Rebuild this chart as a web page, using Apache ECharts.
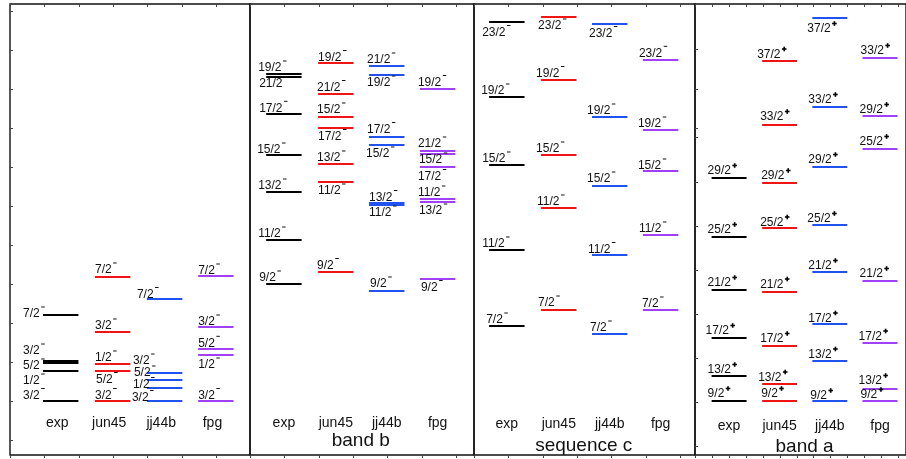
<!DOCTYPE html>
<html><head><meta charset="utf-8">
<script src="https://cdn.jsdelivr.net/npm/echarts@6/dist/echarts.min.js"></script>
<style>html,body{margin:0;padding:0;background:#fff}#c{width:906px;height:459px}</style>
</head><body><div id="c"></div><script>
// ---------------- DATA (excitation energies, keV, relative to lowest level) ----------------
const columns = ['exp', 'jun45', 'jj44b', 'fpg'];
const panelTitles = ['', 'band b', 'sequence c', 'band a'];
const panelParity = ['-', '-', '-', '+'];

// Panel 1: low-lying negative-parity states
const lowExpE   = [0, 300, 380, 400, 860];
const lowExpJ   = ['3/2', '1/2', '5/2', '3/2', '7/2'];
const lowJun45E = [0, 300, 370, 690, 1240];
const lowJun45J = ['3/2', '5/2', '1/2', '3/2', '7/2'];
const lowJj44bE = [0, 130, 210, 280, 1020];
const lowJj44bJ = ['3/2', '1/2', '5/2', '3/2', '7/2'];
const lowFpgE   = [0, 460, 520, 740, 1250];
const lowFpgJ   = ['3/2', '1/2', '5/2', '3/2', '7/2'];

// Panel 2: band b
const bandBExpE   = [1170, 1610, 2090, 2460, 2870, 3240, 3270];
const bandBExpJ   = ['9/2', '11/2', '13/2', '15/2', '17/2', '21/2', '19/2'];
const bandBJun45E = [1290, 2190, 2370, 2730, 2840, 3070, 3380];
const bandBJun45J = ['9/2', '11/2', '13/2', '17/2', '15/2', '21/2', '19/2'];
const bandBJj44bE = [1100, 1960, 1980, 2560, 2640, 3260, 3350];
const bandBJj44bJ = ['9/2', '11/2', '13/2', '15/2', '17/2', '19/2', '21/2'];
const bandBFpgE   = [1220, 1990, 2020, 2340, 2470, 2500, 3120];
const bandBFpgJ   = ['9/2', '13/2', '11/2', '17/2', '15/2', '21/2', '19/2'];

// Panel 3: sequence c
const seqCJ      = ['7/2', '11/2', '15/2', '19/2', '23/2'];
const seqCExpE   = [750, 1510, 2360, 3040, 3790];
const seqCJun45E = [910, 1930, 2460, 3210, 3840];
const seqCJj44bE = [670, 1460, 2150, 2840, 3770];
const seqCFpgE   = [910, 1660, 2300, 2710, 3410];

// Panel 4: band a (positive parity)
const bandAExpE   = [0, 250, 630, 1110, 1640, 2230];
const bandAExpJ   = ['9/2', '13/2', '17/2', '21/2', '25/2', '29/2'];
const bandAJun45E = [0, 170, 550, 1090, 1730, 2180, 2760, 3400];
const bandAJun45J = ['9/2', '13/2', '17/2', '21/2', '25/2', '29/2', '33/2', '37/2'];
const bandAJj44bE = [0, 400, 770, 1290, 1760, 2340, 2940, 3830];
const bandAJj44bJ = ['9/2', '13/2', '17/2', '21/2', '25/2', '29/2', '33/2', '37/2'];
const bandAFpgE   = [0, 120, 580, 1200, 2520, 2850, 3430];
const bandAFpgJ   = ['9/2', '13/2', '17/2', '21/2', '25/2', '29/2', '33/2'];

const panelLevels = [
  [[lowExpE, lowExpJ], [lowJun45E, lowJun45J], [lowJj44bE, lowJj44bJ], [lowFpgE, lowFpgJ]],
  [[bandBExpE, bandBExpJ], [bandBJun45E, bandBJun45J], [bandBJj44bE, bandBJj44bJ], [bandBFpgE, bandBFpgJ]],
  [[seqCExpE, seqCJ], [seqCJun45E, seqCJ], [seqCJj44bE, seqCJ], [seqCFpgE, seqCJ]],
  [[bandAExpE, bandAExpJ], [bandAJun45E, bandAJun45J], [bandAJj44bE, bandAJj44bJ], [bandAFpgE, bandAFpgJ]]
];

// ---------------- LAYOUT / STYLE ----------------
const FONT = '"Liberation Sans", Arial, Helvetica, sans-serif';
const colColors = ['#000000', '#f01414', '#2052f0', '#a040f8'];
const PX_PER_UNIT = 34.4;
const TOP = 4, HEIGHT = 451;
const Y_MIN = -540, Y_MAX = 3970;
const gridsLayout = [
  { left: 10,  width: 240, colStart: [0.96, 2.47, 3.98, 5.47], labShift: -0.1, tickInt: 1 },
  { left: 250, width: 224, colStart: [0.47, 1.98, 3.46, 4.94], labShift: 0, tickInt: 1 },
  { left: 474, width: 221, colStart: [0.44, 1.95, 3.43, 4.91], labShift: 0, tickInt: 1 },
  { left: 695, width: 214, colStart: [0.49, 1.98, 3.46, 4.94], labShift: 0, tickInt: 0.5 }
];
const COL_W = 1.03;
const titleY = [0, -400, -450, -460];
const colLabelY = [-220, -220, -230, -255];
const leftTicks = [
  [-390, 0, 390, 780, 1170, 1560, 1950, 2340, 2730, 3120, 3510, 3900],
  null, null,
  [-450, -10, 430, 870, 1310, 1750, 2190, 2640, 2730, 3120, 3520]
];
// label offsets [dx, dy] in px relative to left end of the level line
const labelOffsets = [
  [
    [[-20, -5.5], [-20, 10], [-20, 3], [-20, -10], [-20, -1]],
    [[0, -5.5], [1, 8.5], [0, -6], [0, -6], [0, -7]],
    [[-15, -3.5], [-14, -3.5], [-13, -7], [-14, -12], [-10, -4.5]],
    [[0, -5.5], [0, 10], [0, -5.7], [0, -5], [0, -5]]
  ],
  [
    [[-7, -6], [-8, -6], [-8, -6], [-9, -5], [-7, -5.7], [-7, 7], [-8, -6]],
    [[-1, -6.5], [0, 9], [-1, -6], [0, 8.5], [-1, -7], [-1, -6.5], [0, -5.5]],
    [[1, -7], [0, 8], [0, -5.5], [-3, 9], [-2, -7.5], [-2, 8], [-2, -6]],
    [[1, 8.5], [-1, 9], [-2, -6], [-2, 9.5], [-1, 6], [-2, -7], [-2, -6.5]]
  ],
  [
    [[-3, -6], [-7, -6], [-7, -6], [-8, -6], [-7, 10.5]],
    [[-3, -7], [-4, -6], [-5, -6], [-5, -6.5], [-3, 9]],
    [[-2, -6], [-4, -5.5], [-5, -7], [-5, -6], [-3, 9.5]],
    [[-1, -6], [-4, -6], [-5, -5], [-5, -6], [-4, -6.7]]
  ],
  [
    [[-4, -7], [-4, -6], [-6, -7], [-4, -7], [-4, -7], [-4, -7]],
    [[-1, -7], [-4, -6.5], [-2, -7], [-2, -7.5], [-2, -5.5], [-1, -7], [-2, -8], [-5, -6.5]],
    [[-2, -5], [-4, -6.5], [-4, -5.5], [-4, -6], [-5, -6], [-4, -7], [-4, -7], [-5, 11]],
    [[-2, -6], [-4, -8], [-4, -6.5], [-3, -7], [-3, -7], [-3, -6], [-2, -7]]
  ]
];

const measureCtx = document.createElement('canvas').getContext('2d');
measureCtx.font = '12px ' + FONT;
function textW(s) { return measureCtx.measureText(s).width; }

// ---------------- BUILD OPTION ----------------
const grid = [], xAxis = [], yAxis = [], series = [];
gridsLayout.forEach((g, p) => {
  const xmax = g.width / PX_PER_UNIT;
  grid.push({ left: g.left, top: TOP, width: g.width, height: HEIGHT, show: true,
    borderColor: '#111', borderWidth: 1.4, backgroundColor: 'transparent' });
  ['bottom', 'top'].forEach(pos => {
    xAxis.push({ type: 'value', gridIndex: p, position: pos, min: 0, max: xmax, interval: g.tickInt,
      axisLine: { show: false, onZero: false }, splitLine: { show: false }, axisLabel: { show: false },
      axisTick: { show: true, inside: pos === 'top', length: 3, lineStyle: { color: '#444', width: 1 } } });
  });
  yAxis.push({ type: 'value', gridIndex: p, min: Y_MIN, max: Y_MAX,
    axisLine: { show: false, onZero: false }, splitLine: { show: false }, axisLabel: { show: false },
    axisTick: leftTicks[p] ? { show: true, inside: true, length: 3, customValues: leftTicks[p],
      lineStyle: { color: '#444', width: 1 } } : { show: false } });

  // levels
  const data = [], metas = [];
  panelLevels[p].forEach((pair, c) => {
    const [Es, Js] = pair;
    Es.forEach((E, i) => { data.push([c, E]); metas.push({ J: Js[i], off: labelOffsets[p][c][i] }); });
  });
  const parity = panelParity[p];
  series.push({
    type: 'custom', xAxisIndex: 2 * p, yAxisIndex: p, data: data, silent: true,
    renderItem: (params, api) => {
      const c = api.value(0), E = api.value(1);
      const m = metas[params.dataIndex];
      const a = api.coord([g.colStart[c], E]);
      const b = api.coord([g.colStart[c] + COL_W, E]);
      const tx = a[0] + m.off[0], ty = a[1] + m.off[1];
      const w = textW(m.J);
      const kids = [
        { type: 'line', shape: { x1: a[0], y1: a[1], x2: b[0], y2: b[1] },
          style: { stroke: colColors[c], lineWidth: 2 } },
        { type: 'text', x: tx, y: ty, z2: 5,
          style: { text: m.J, font: '12px ' + FONT, fill: '#111', align: 'left', verticalAlign: 'middle',
            textAlign: 'left', textVerticalAlign: 'middle' } }
      ];
      if (parity === '-') {
        kids.push({ type: 'line', z2: 5, shape: { x1: tx + w + 1.5, y1: ty - 7, x2: tx + w + 5, y2: ty - 7 },
          style: { stroke: '#111', lineWidth: 1 } });
      } else {
        const cx = tx + w + 3.7, cy = ty - 5.5;
        kids.push({ type: 'line', z2: 5, shape: { x1: cx - 2.3, y1: cy, x2: cx + 2.3, y2: cy }, style: { stroke: '#000', lineWidth: 1.6 } });
        kids.push({ type: 'line', z2: 5, shape: { x1: cx, y1: cy - 2.3, x2: cx, y2: cy + 2.3 }, style: { stroke: '#000', lineWidth: 1.6 } });
      }
      return { type: 'group', children: kids };
    }
  });

  // column labels
  series.push({
    type: 'custom', xAxisIndex: 2 * p, yAxisIndex: p, data: columns.map((_, i) => [i]), silent: true,
    renderItem: (params, api) => {
      const c = api.value(0);
      const pt = api.coord([g.colStart[c] + COL_W / 2 + g.labShift, colLabelY[p]]);
      return { type: 'text', x: pt[0], y: pt[1],
        style: { text: columns[c], font: '14px ' + FONT, fill: '#111', align: 'center', verticalAlign: 'middle',
          textAlign: 'center', textVerticalAlign: 'middle' } };
    }
  });

  // panel title
  if (panelTitles[p]) {
    series.push({
      type: 'custom', xAxisIndex: 2 * p, yAxisIndex: p, data: [[0]], silent: true,
      renderItem: (params, api) => {
        const pt = api.coord([(g.colStart[0] + g.colStart[3] + COL_W) / 2, titleY[p]]);
        return { type: 'text', x: pt[0], y: pt[1],
          style: { text: panelTitles[p], font: '19px ' + FONT, fill: '#111', align: 'center', verticalAlign: 'middle',
            textAlign: 'center', textVerticalAlign: 'middle' } };
      }
    });
  }
});

const chart = echarts.init(document.getElementById('c'), null, { renderer: 'canvas' });
chart.setOption({ animation: false, backgroundColor: '#fff', grid, xAxis, yAxis, series });
</script></body></html>
